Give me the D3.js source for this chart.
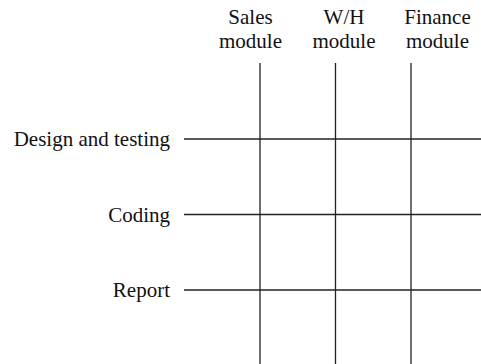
<!DOCTYPE html>
<html>
<head>
<meta charset="utf-8">
<script src="https://cdn.jsdelivr.net/npm/d3@7/dist/d3.min.js"></script>
<style>
html,body{margin:0;padding:0;background:#fff;}
svg{display:block;}
text{font-family:"Liberation Serif","Times New Roman",serif;fill:#111;}
</style>
</head>
<body>
<svg id="chart" width="481" height="364"></svg>
<script>
const columns = [["Sales","module"],["W/H","module"],["Finance","module"]];
const rows = ["Design and testing","Coding","Report"];

const svg = d3.select("#chart");
const W = 481, H = 364;
const fs = 21;

const xLine = d3.scalePoint().domain(d3.range(columns.length)).range([260, 411]);
const xLabel = d3.scalePoint().domain(d3.range(columns.length)).range([250.5, 437.5]);
const y = d3.scalePoint().domain(rows).range([139, 290]);

const stroke = "#222", sw = 1.3;

// horizontal lines
svg.selectAll("line.h").data(rows).enter().append("line")
  .attr("class","h")
  .attr("x1",184).attr("x2",W)
  .attr("y1",d=>y(d)).attr("y2",d=>y(d))
  .attr("stroke",stroke).attr("stroke-width",sw);

// vertical lines
svg.selectAll("line.v").data(d3.range(columns.length)).enter().append("line")
  .attr("class","v")
  .attr("x1",d=>xLine(d)).attr("x2",d=>xLine(d))
  .attr("y1",63).attr("y2",H)
  .attr("stroke",stroke).attr("stroke-width",sw);

// column labels
const cl = svg.selectAll("text.col").data(columns).enter().append("text")
  .attr("class","col")
  .attr("text-anchor","middle")
  .attr("font-size",fs);
cl.append("tspan").attr("x",(d,i)=>xLabel(i)).attr("y",23.5).text(d=>d[0]);
cl.append("tspan").attr("x",(d,i)=>xLabel(i)).attr("y",48).text(d=>d[1]);

// row labels
svg.selectAll("text.row").data(rows).enter().append("text")
  .attr("class","row")
  .attr("text-anchor","end")
  .attr("font-size",fs)
  .attr("x",170)
  .attr("y",d=>y(d)+7)
  .text(d=>d);
</script>
</body>
</html>
